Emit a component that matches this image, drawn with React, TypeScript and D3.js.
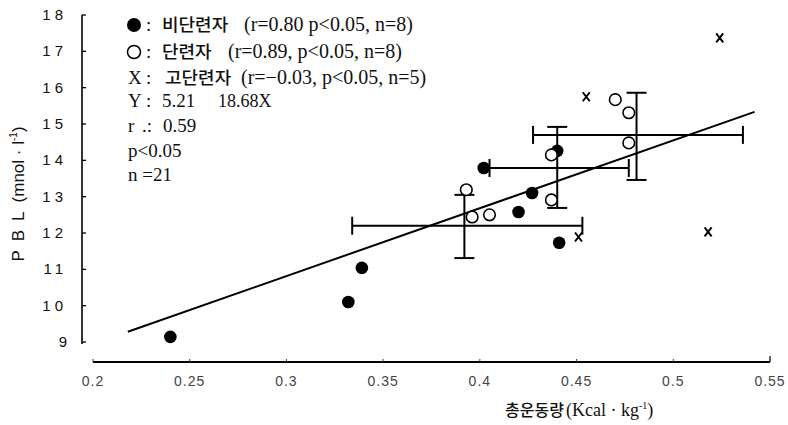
import React from "react";
import * as d3 from "d3";

const xTicks = [0.2, 0.25, 0.3, 0.35, 0.4, 0.45, 0.5, 0.55];
const yTicks = [9, 10, 11, 12, 13, 14, 15, 16, 17, 18];

// 비단련자 (filled)
const untrainedX = [0.24, 0.332, 0.339, 0.402, 0.44, 0.427, 0.42, 0.441];
const untrainedY = [9.14, 10.1, 11.04, 13.79, 14.26, 13.1, 12.58, 11.73];
// 단련자 (open)
const trainedX = [0.393, 0.396, 0.405, 0.437, 0.437, 0.47, 0.477, 0.477];
const trainedY = [13.19, 12.44, 12.5, 14.15, 12.91, 15.67, 15.31, 14.48];
// 고단련자 (X)
const highX = [0.455, 0.451, 0.524, 0.518];
const highY = [15.75, 11.89, 17.37, 12.03];

// error bars: centre x, centre y, x low, x high, y low, y high
const barCx = [0.392, 0.44, 0.481];
const barCy = [12.2, 13.79, 14.7];
const barXLo = [0.334, 0.405, 0.4275];
const barXHi = [0.453, 0.477, 0.536];
const barYLo = [11.31, 12.69, 13.46];
const barYHi = [13.05, 14.92, 15.86];

const regA = 5.21;
const regB = 18.68;
const regRange = [0.218, 0.542];

const serif = "'Liberation Serif', 'Noto Sans CJK KR', serif";
const sans = "'Liberation Sans', 'Noto Sans CJK KR', sans-serif";
const kr = "'Noto Sans CJK KR', sans-serif";

function Kr({ x, y, s, text, size = 17 }: { x: number; y: number; s: number; text: string; size?: number }) {
  return (
    <text
      transform={`translate(${x},${y}) scale(${s},1)`}
      fontFamily={kr}
      fontSize={size}
      fontWeight={500}
      fill="#111"
    >
      {text}
    </text>
  );
}

export default function App() {
  const x = d3.scaleLinear().domain([0.2, 0.55]).range([93, 770]);
  const y = d3.scaleLinear().domain([9, 18]).range([342, 15]);
  const line = d3
    .line<number>()
    .x((d) => x(d))
    .y((d) => y(regA + regB * d));

  const capH = 9;
  const capV = 10;

  return (
    <div style={{ position: "absolute", left: 0, top: 0 }}>
      <svg width={788} height={425} style={{ display: "block", background: "#fff" }}>
        {/* y axis */}
        <line x1={82} x2={82} y1={y(9) + 2} y2={y(18)} stroke="#000" strokeWidth={1.6} />
        {yTicks.map((t) => (
          <g key={"yt" + t}>
            <line x1={82} x2={86} y1={y(t)} y2={y(t)} stroke="#000" strokeWidth={1.3} />
            <text
              x={67}
              y={y(t) + 5}
              textAnchor="end"
              fontFamily={sans}
              fontSize={15}
              letterSpacing={t >= 10 ? 4 : 0}
              fill="#111"
            >
              {t}
            </text>
          </g>
        ))}
        {/* x axis */}
        <line x1={x(0.2)} x2={x(0.55)} y1={362} y2={362} stroke="#000" strokeWidth={1.8} />
        <line x1={x(0.55)} x2={x(0.55)} y1={362} y2={356} stroke="#000" strokeWidth={1.2} />
        {xTicks.map((t) => (
          <g key={"xt" + t}>
            <line x1={x(t)} x2={x(t)} y1={362} y2={359} stroke="#444" strokeWidth={1} />
            <text
              x={x(t)}
              y={386}
              textAnchor="middle"
              fontFamily={sans}
              fontSize={14}
              letterSpacing={1}
              fill="#444"
            >
              {t}
            </text>
          </g>
        ))}
        {/* axis titles */}
        <text
          transform={`translate(24,${194}) rotate(-90)`}
          textAnchor="middle"
          fontFamily={sans}
          fontSize={17}
          fill="#111"
        >
          <tspan letterSpacing={9}>PBL</tspan>
          <tspan>{"(mnol · l"}</tspan>
          <tspan fontSize={10} dy={-7}>
            -1
          </tspan>
          <tspan dy={7}>)</tspan>
        </text>
        <Kr x={505} y={416} s={1.0} size={16} text="총운동량" />
        <text x={566} y={416} fontFamily={serif} fontSize={18} fill="#111">
          {"(Kcal · kg"}
          <tspan fontSize={10} dy={-7}>
            -1
          </tspan>
          <tspan dy={7}>)</tspan>
        </text>

        {/* regression line */}
        <path d={line(regRange) || ""} fill="none" stroke="#000" strokeWidth={2} />

        {/* error bars */}
        {barCx.map((cx, i) => (
          <g key={"eb" + i} stroke="#000" strokeWidth={2}>
            <line x1={x(barXLo[i])} x2={x(barXHi[i])} y1={y(barCy[i])} y2={y(barCy[i])} />
            <line x1={x(barXLo[i])} x2={x(barXLo[i])} y1={y(barCy[i]) - capH} y2={y(barCy[i]) + capH} />
            <line x1={x(barXHi[i])} x2={x(barXHi[i])} y1={y(barCy[i]) - capH} y2={y(barCy[i]) + capH} />
            <line x1={x(cx)} x2={x(cx)} y1={y(barYLo[i])} y2={y(barYHi[i])} />
            <line x1={x(cx) - capV} x2={x(cx) + capV} y1={y(barYLo[i])} y2={y(barYLo[i])} />
            <line x1={x(cx) - capV} x2={x(cx) + capV} y1={y(barYHi[i])} y2={y(barYHi[i])} />
          </g>
        ))}

        {/* points */}
        {untrainedX.map((v, i) => (
          <circle key={"u" + i} cx={x(v)} cy={y(untrainedY[i])} r={6.3} fill="#000" />
        ))}
        {trainedX.map((v, i) => (
          <circle
            key={"t" + i}
            cx={x(v)}
            cy={y(trainedY[i])}
            r={5.8}
            fill="#fff"
            stroke="#000"
            strokeWidth={1.6}
          />
        ))}
        {highX.map((v, i) => {
          const px = x(v);
          const py = y(highY[i]);
          return (
            <path
              key={"h" + i}
              d={`M${px - 3.5},${py - 4.5}L${px + 3.5},${py + 4.5}M${px + 3.5},${py - 4.5}L${px - 3.5},${py + 4.5}`}
              stroke="#000"
              strokeWidth={2}
              fill="none"
            />
          );
        })}

        {/* legend / annotations */}
        <g fontFamily={serif} fontSize={19} fill="#111">
          <circle cx={134} cy={25} r={7} fill="#000" />
          <text x={146} y={31}>:</text>
          <Kr x={162} y={31} s={1.06} text="비단련자" />
          <text x={244} y={31} fontSize={20}>(r=0.80 p&lt;0.05, n=8)</text>

          <circle cx={134} cy={52} r={6.5} fill="#fff" stroke="#000" strokeWidth={1.5} />
          <text x={146} y={58}>:</text>
          <Kr x={162} y={58} s={1.06} text="단련자" />
          <text x={228} y={58} fontSize={20}>(r=0.89, p&lt;0.05, n=8)</text>

          <text x={128} y={84}>X</text>
          <text x={146} y={84}>:</text>
          <Kr x={165} y={84} s={1.06} text="고단련자" />
          <text x={241} y={84} fontSize={20}>(r=−0.03, p&lt;0.05, n=5)</text>

          <text x={128} y={107}>Y</text>
          <text x={146} y={107}>:</text>
          <text x={162} y={107}>5.21</text>
          <text x={218} y={107} fontSize={18}>18.68X</text>
          <text x={128} y={132}>r</text>
          <text x={142} y={132}>.:</text>
          <text x={163} y={132}>0.59</text>
          <text x={128} y={157}>p&lt;0.05</text>
          <text x={128} y={181}>n =21</text>
        </g>
      </svg>
    </div>
  );
}
